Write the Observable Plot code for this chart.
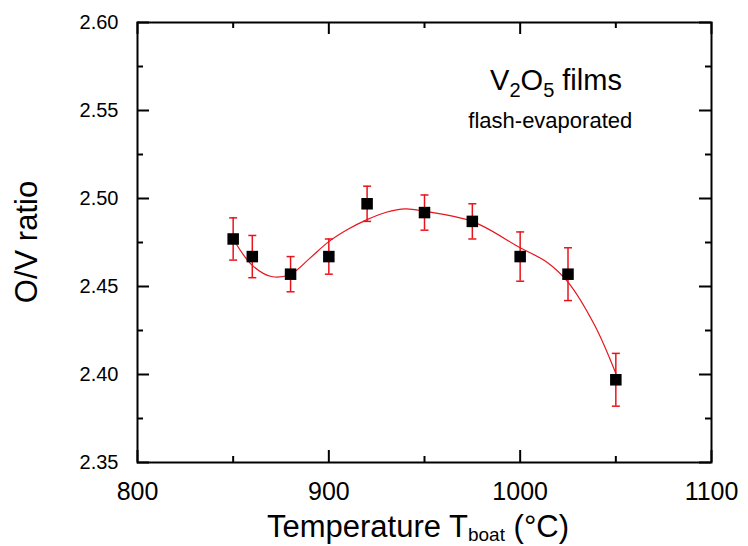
<!DOCTYPE html>
<html>
<head>
<meta charset="utf-8">
<script src="https://cdn.jsdelivr.net/npm/d3@7"></script>
<script src="https://cdn.jsdelivr.net/npm/@observablehq/plot@0.6"></script>
<style>
  html, body { margin: 0; padding: 0; background: #fff; }
  svg { display: block; }
</style>
</head>
<body>
<div id="chart"></div>
<script>
const temps = [850, 860, 880, 900, 920, 950, 975, 1000, 1025, 1050];
const ratios = [2.477, 2.467, 2.457, 2.467, 2.497, 2.492, 2.487, 2.467, 2.457, 2.397];
const errors = [0.012, 0.012, 0.010, 0.010, 0.010, 0.010, 0.010, 0.014, 0.015, 0.015];

const fitTemps = [850, 860, 870, 880, 890, 900, 910, 920, 930, 940, 950, 975, 1000, 1014, 1025, 1039, 1050];
const fitRatios = [2.477, 2.462, 2.4557, 2.457, 2.466, 2.4755, 2.4825, 2.488, 2.4922, 2.4941, 2.4928, 2.487, 2.472, 2.4638, 2.4525, 2.4278, 2.4006];

const xMajorTicks = [800, 900, 1000, 1100];
const xMinorTicks = [850, 950, 1050];
const yMajorTicks = [2.35, 2.40, 2.45, 2.50, 2.55, 2.60];
const yMinorTicks = [2.375, 2.425, 2.475, 2.525, 2.575];

const points = temps.map((t, i) => ({T: t, R: ratios[i], lo: ratios[i] - errors[i], hi: ratios[i] + errors[i]}));
const fit = fitTemps.map((t, i) => ({T: t, R: fitRatios[i]}));

const W = 748, H = 546;
const mL = 137, mR = 37, mT = 22, mB = 84;
const iw = W - mL - mR, ih = H - mT - mB;
const major = 12, minor = 6;
const red = "#e8141c";

const capSymbol = {
  draw(context, size) {
    const w = Math.sqrt(size / Math.PI);
    context.moveTo(-w, 0);
    context.lineTo(w, 0);
  }
};

const plot = Plot.plot({
  width: W,
  height: H,
  marginLeft: mL,
  marginRight: mR,
  marginTop: mT,
  marginBottom: mB,
  style: {fontFamily: "Liberation Sans, Arial, sans-serif", background: "#fff", color: "#000"},
  x: {domain: [800, 1100]},
  y: {domain: [2.35, 2.60]},
  marks: [
    Plot.axisX({ticks: xMajorTicks, tickSize: 0, tickPadding: 20, fontSize: 25, label: null, tickFormat: d => String(d)}),
    Plot.axisY({ticks: yMajorTicks, tickSize: 0, tickPadding: 19, fontSize: 20, label: null, tickFormat: d3.format(".2f")}),
    // inward ticks, bottom & top
    Plot.ruleX(xMajorTicks, {x: d => d, insetTop: ih - major, stroke: "#000", strokeWidth: 2}),
    Plot.ruleX(xMajorTicks, {x: d => d, insetBottom: ih - major, stroke: "#000", strokeWidth: 2}),
    Plot.ruleX(xMinorTicks, {x: d => d, insetTop: ih - minor, stroke: "#000", strokeWidth: 2}),
    Plot.ruleX(xMinorTicks, {x: d => d, insetBottom: ih - minor, stroke: "#000", strokeWidth: 2}),
    // inward ticks, left & right
    Plot.ruleY(yMajorTicks, {y: d => d, insetRight: iw - major, stroke: "#000", strokeWidth: 2}),
    Plot.ruleY(yMajorTicks, {y: d => d, insetLeft: iw - major, stroke: "#000", strokeWidth: 2}),
    Plot.ruleY(yMinorTicks, {y: d => d, insetRight: iw - minor, stroke: "#000", strokeWidth: 2}),
    Plot.ruleY(yMinorTicks, {y: d => d, insetLeft: iw - minor, stroke: "#000", strokeWidth: 2}),
    Plot.frame({stroke: "#000", strokeWidth: 2}),
    // fit curve
    Plot.line(fit, {x: "T", y: "R", curve: "catmull-rom", stroke: red, strokeWidth: 1.2}),
    // error bars
    Plot.ruleX(points, {x: "T", y1: "lo", y2: "hi", stroke: red, strokeWidth: 1.5}),
    Plot.dot(points, {x: "T", y: "lo", symbol: capSymbol, r: 4, stroke: red, strokeWidth: 1.5, fill: "none"}),
    Plot.dot(points, {x: "T", y: "hi", symbol: capSymbol, r: 4, stroke: red, strokeWidth: 1.5, fill: "none"}),
    // data squares
    Plot.dot(points, {x: "T", y: "R", symbol: "square", r: 6.5, fill: "#000", stroke: "none"})
  ]
});

document.getElementById("chart").appendChild(plot);

const svg = d3.select(plot);
const xs = plot.scale("x"), ys = plot.scale("y");
const font = "Liberation Sans, Arial, sans-serif";

// annotation
const t1 = svg.append("text")
  .attr("x", xs.apply(1019)).attr("y", ys.apply(2.5615))
  .attr("text-anchor", "middle").attr("font-family", font).attr("font-size", 29).attr("fill", "#000");
t1.append("tspan").text("V");
t1.append("tspan").attr("font-size", 20).attr("dy", 7).text("2");
t1.append("tspan").attr("dy", -7).text("O");
t1.append("tspan").attr("font-size", 20).attr("dy", 7).text("5");
t1.append("tspan").attr("dy", -7).text(" films");

svg.append("text")
  .attr("x", xs.apply(1016)).attr("y", ys.apply(2.5395))
  .attr("text-anchor", "middle").attr("font-family", font).attr("font-size", 22).attr("fill", "#000")
  .text("flash-evaporated");

// x axis label
const xl = svg.append("text")
  .attr("x", mL + iw / 2 - 6).attr("y", 537)
  .attr("text-anchor", "middle").attr("font-family", font).attr("font-size", 31).attr("fill", "#000");
xl.append("tspan").text("Temperature T");
xl.append("tspan").attr("font-size", 19).attr("dy", 4).text("boat");
xl.append("tspan").attr("dy", -4).text(" (°C)");

// y axis label
svg.append("text")
  .attr("transform", `translate(37,${mT + ih / 2}) rotate(-90)`)
  .attr("text-anchor", "middle").attr("font-family", font).attr("font-size", 31).attr("fill", "#000")
  .text("O/V ratio");
</script>
</body>
</html>
